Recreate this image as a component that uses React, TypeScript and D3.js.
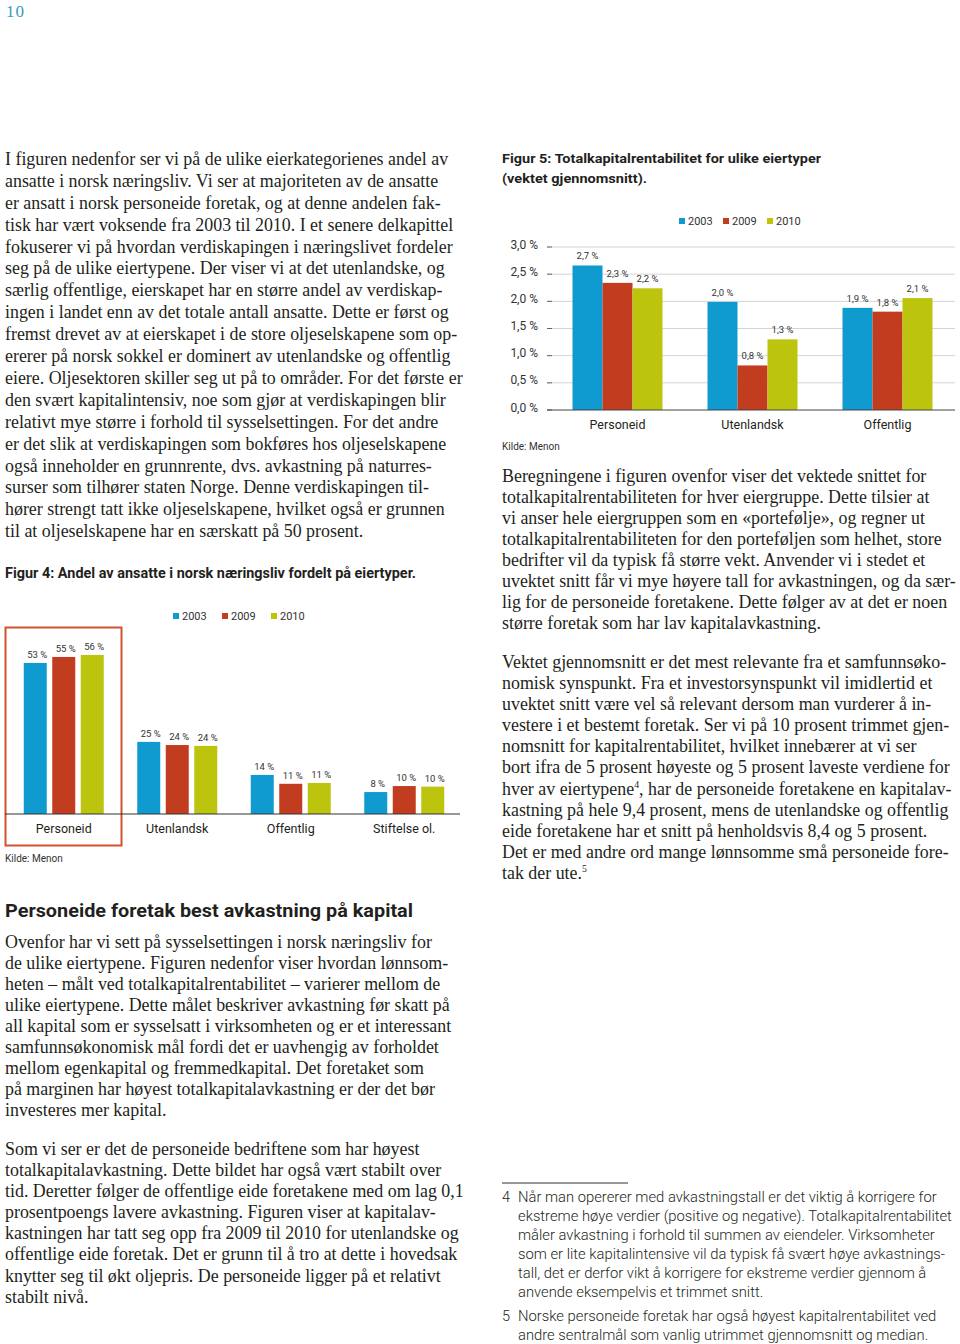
import React from 'react';
import * as d3 from 'd3';

// ---------- data ----------
const years = ['2003', '2009', '2010'];
const yearColors = ['#0f9bcf', '#c23d1f', '#bdc40d'];

const fig4Categories = ['Personeid', 'Utenlandsk', 'Offentlig', 'Stiftelse ol.'];
const fig4Y2003 = [53.0, 25.3, 13.7, 7.7];
const fig4Y2009 = [55.1, 24.2, 10.6, 9.8];
const fig4Y2010 = [55.8, 23.9, 10.9, 9.6];

const fig5Categories = ['Personeid', 'Utenlandsk', 'Offentlig'];
const fig5Y2003 = [2.66, 1.99, 1.88];
const fig5Y2009 = [2.34, 0.82, 1.81];
const fig5Y2010 = [2.24, 1.3, 2.06];
const fig5Ticks = [0, 0.5, 1.0, 1.5, 2.0, 2.5, 3.0];

// ---------- text ----------
const leftPara1 = [
  'I figuren nedenfor ser vi på de ulike eierkategorienes andel av',
  'ansatte i norsk næringsliv. Vi ser at majoriteten av de ansatte',
  'er ansatt i norsk personeide foretak, og at denne andelen fak-',
  'tisk har vært voksende fra 2003 til 2010. I et senere delkapittel',
  'fokuserer vi på hvordan verdiskapingen i næringslivet fordeler',
  'seg på de ulike eiertypene. Der viser vi at det utenlandske, og',
  'særlig offentlige, eierskapet har en større andel av verdiskap-',
  'ingen i landet enn av det totale antall ansatte. Dette er først og',
  'fremst drevet av at eierskapet i de store oljeselskapene som op-',
  'ererer på norsk sokkel er dominert av utenlandske og offentlig',
  'eiere. Oljesektoren skiller seg ut på to områder. For det første er',
  'den svært kapitalintensiv, noe som gjør at verdiskapingen blir',
  'relativt mye større i forhold til sysselsettingen. For det andre',
  'er det slik at verdiskapingen som bokføres hos oljeselskapene',
  'også inneholder en grunnrente, dvs. avkastning på naturres-',
  'surser som tilhører staten Norge. Denne verdiskapingen til-',
  'hører strengt tatt ikke oljeselskapene, hvilket også er grunnen',
  'til at oljeselskapene har en særskatt på 50 prosent.',
];
const rightPara1 = [
  'Beregningene i figuren ovenfor viser det vektede snittet for',
  'totalkapitalrentabiliteten for hver eiergruppe. Dette tilsier at',
  'vi anser hele eiergruppen som en «portefølje», og regner ut',
  'totalkapitalrentabiliteten for den porteføljen som helhet, store',
  'bedrifter vil da typisk få større vekt. Anvender vi i stedet et',
  'uvektet snitt får vi mye høyere tall for avkastningen, og da sær-',
  'lig for de personeide foretakene. Dette følger av at det er noen',
  'større foretak som har lav kapitalavkastning.',
];
const rightPara2 = [
  'Vektet gjennomsnitt er det mest relevante fra et samfunnsøko-',
  'nomisk synspunkt. Fra et investorsynspunkt vil imidlertid et',
  'uvektet snitt være vel så relevant dersom man vurderer å in-',
  'vestere i et bestemt foretak. Ser vi på 10 prosent trimmet gjen-',
  'nomsnitt for kapitalrentabilitet, hvilket innebærer at vi ser',
  'bort ifra de 5 prosent høyeste og 5 prosent laveste verdiene for',
  'hver av eiertypene^4, har de personeide foretakene en kapitalav-',
  'kastning på hele 9,4 prosent, mens de utenlandske og offentlig',
  'eide foretakene har et snitt på henholdsvis 8,4 og 5 prosent.',
  'Det er med andre ord mange lønnsomme små personeide fore-',
  'tak der ute.^5',
];
const bottomPara1 = [
  'Ovenfor har vi sett på sysselsettingen i norsk næringsliv for',
  'de ulike eiertypene. Figuren nedenfor viser hvordan lønnsom-',
  'heten – målt ved totalkapitalrentabilitet – varierer mellom de',
  'ulike eiertypene. Dette målet beskriver avkastning før skatt på',
  'all kapital som er sysselsatt i virksomheten og er et interessant',
  'samfunnsøkonomisk mål fordi det er uavhengig av forholdet',
  'mellom egenkapital og fremmedkapital. Det foretaket som',
  'på marginen har høyest totalkapitalavkastning er der det bør',
  'investeres mer kapital.',
];
const bottomPara2 = [
  'Som vi ser er det de personeide bedriftene som har høyest',
  'totalkapitalavkastning. Dette bildet har også vært stabilt over',
  'tid. Deretter følger de offentlige eide foretakene med om lag 0,1',
  'prosentpoengs lavere avkastning. Figuren viser at kapitalav-',
  'kastningen har tatt seg opp fra 2009 til 2010 for utenlandske og',
  'offentlige eide foretak. Det er grunn til å tro at dette i hovedsak',
  'knytter seg til økt oljepris. De personeide ligger på et relativt',
  'stabilt nivå.',
];
const footnote4 = [
  'Når man opererer med avkastningstall er det viktig å korrigere for',
  'ekstreme høye verdier (positive og negative). Totalkapitalrentabilitet',
  'måler avkastning i forhold til summen av eiendeler. Virksomheter',
  'som er lite kapitalintensive vil da typisk få svært høye avkastnings-',
  'tall, det er derfor vikt å korrigere for ekstreme verdier gjennom å',
  'anvende eksempelvis et trimmet snitt.',
];
const footnote5 = [
  'Norske personeide foretak har også høyest kapitalrentabilitet ved',
  'andre sentralmål som vanlig utrimmet gjennomsnitt og median.',
];

const SERIF = '"Liberation Serif", "DejaVu Serif", serif';
const SANS = 'Roboto, "Noto Sans", sans-serif';
const TEXT = '#231f20';
const BODY_SIZE = 18;
const BODY_SX = 0.995;
const NOTE_SIZE = 14.5;
const NOTE_SX = 1.02;

function renderLine(l: string, size: number) {
  const parts = l.split(/\^(\d)/);
  if (parts.length === 1) return l;
  const out: any[] = [];
  parts.forEach((p, i) => {
    if (i % 2 === 1) {
      out.push(
        <tspan key={i} fontSize={size * 0.55} dy={-size * 0.38}>
          {p}
        </tspan>
      );
    } else if (p.length) {
      out.push(
        <tspan key={i} dy={i > 0 ? size * 0.38 : 0}>
          {p}
        </tspan>
      );
    }
  });
  return out;
}

function TextBlock(props: {
  lines: string[];
  x: number;
  y: number;
  dy: number;
  size: number;
  family?: string;
  weight?: number | string;
  fill?: string;
  sx?: number;
}) {
  const { lines, x, y, dy, size, family = SERIF, weight = 400, fill = TEXT, sx = 1 } = props;
  return (
    <g transform={`translate(${x},0) scale(${sx},1)`}>
      {lines.map((l, i) => (
        <text key={i} x={0} y={y + i * dy} fontSize={size} fontFamily={family} fontWeight={weight} fill={fill}>
          {renderLine(l, size)}
        </text>
      ))}
    </g>
  );
}

const fmt0 = d3.format('.0f');
const fmt1 = (v: number) => d3.format('.1f')(v).replace('.', ',');

function Legend({ x0, y, gap }: { x0: number; y: number; gap: number }) {
  return (
    <g>
      {years.map((yr, i) => (
        <g key={yr} transform={`translate(${x0 + i * gap},${y})`}>
          <rect x={0} y={-6} width={6} height={6} fill={yearColors[i]} />
          <text x={9} y={0.5} fontSize={11} fontFamily={SANS} fill="#333">
            {yr}
          </text>
        </g>
      ))}
    </g>
  );
}

function Fig4() {
  const series = [fig4Y2003, fig4Y2009, fig4Y2010];
  const x = d3.scaleBand<string>().domain(fig4Categories).range([7, 461]).padding(0);
  const inner = d3.scaleBand<string>().domain(years).range([-40, 40]).paddingInner(0.193).paddingOuter(0);
  const y = d3.scaleLinear().domain([0, 60]).range([814, 643]);
  return (
    <g>
      <text x={5} y={578} fontSize={14} fontFamily={SANS} fontWeight={700} fill={TEXT} textLength={411} lengthAdjust="spacingAndGlyphs">
        Figur 4: Andel av ansatte i norsk næringsliv fordelt på eiertyper.
      </text>
      <Legend x0={173} y={619} gap={49} />
      <rect x={5.5} y={627.5} width={116} height={218} fill="none" stroke="#d4502f" strokeWidth={2} />
      {fig4Categories.map((c, ci) => {
        const cx = (x(c) as number) + x.bandwidth() / 2;
        return (
          <g key={c}>
            {years.map((yr, si) => {
              const v = series[si][ci];
              const bx = cx + (inner(yr) as number);
              return (
                <g key={yr}>
                  <rect x={bx} y={y(v)} width={inner.bandwidth()} height={y(0) - y(v)} fill={yearColors[si]} />
                  <text x={bx + inner.bandwidth() / 2 + 2} y={y(v) - 5} fontSize={9.5} fontFamily={SANS} fill="#333" textAnchor="middle">
                    {fmt0(v)} %
                  </text>
                </g>
              );
            })}
            <text x={cx} y={833} fontSize={12.5} fontFamily={SANS} fill={TEXT} textAnchor="middle">
              {c}
            </text>
          </g>
        );
      })}
      <line x1={5} x2={460} y1={y(0)} y2={y(0)} stroke="#333" strokeWidth={1.2} />
      <text x={5} y={862} fontSize={10} fontFamily={SANS} fill="#333">
        Kilde: Menon
      </text>
    </g>
  );
}

function Fig5() {
  const series = [fig5Y2003, fig5Y2009, fig5Y2010];
  const x = d3.scaleBand<string>().domain(fig5Categories).range([550, 955]).padding(0);
  const inner = d3.scaleBand<string>().domain(years).range([-45, 45]).padding(0);
  const y = d3.scaleLinear().domain([0, 3]).range([410, 247]);
  return (
    <g>
      <text x={502} y={163} fontSize={13.5} fontFamily={SANS} fontWeight={700} fill={TEXT} textLength={319} lengthAdjust="spacingAndGlyphs">
        Figur 5: Totalkapitalrentabilitet for ulike eiertyper
      </text>
      <text x={502} y={183} fontSize={13.5} fontFamily={SANS} fontWeight={700} fill={TEXT} textLength={145} lengthAdjust="spacingAndGlyphs">
        (vektet gjennomsnitt).
      </text>
      <Legend x0={679} y={224} gap={44} />
      {fig5Ticks.map((t) => (
        <g key={t}>
          {t > 0 && <line x1={547} x2={955} y1={y(t)} y2={y(t)} stroke="#d4d4d4" strokeWidth={1} />}
          <line x1={547} x2={552} y1={y(t)} y2={y(t)} stroke="#666" strokeWidth={1} />
          <text x={538} y={y(t) + 1.5} fontSize={12} fontFamily={SANS} fill="#333" textAnchor="end">
            {fmt1(t)} %
          </text>
        </g>
      ))}
      {fig5Categories.map((c, ci) => {
        const cx = (x(c) as number) + x.bandwidth() / 2;
        return (
          <g key={c}>
            {years.map((yr, si) => {
              const v = series[si][ci];
              const bx = cx + (inner(yr) as number);
              return (
                <g key={yr}>
                  <rect x={bx} y={y(v)} width={inner.bandwidth()} height={y(0) - y(v)} fill={yearColors[si]} />
                  <text x={bx + inner.bandwidth() / 2} y={y(v) - 6} fontSize={9.5} fontFamily={SANS} fill="#333" textAnchor="middle">
                    {fmt1(v)} %
                  </text>
                </g>
              );
            })}
            <text x={cx} y={429} fontSize={12.5} fontFamily={SANS} fill={TEXT} textAnchor="middle">
              {c}
            </text>
          </g>
        );
      })}
      <line x1={547} x2={955} y1={y(0)} y2={y(0)} stroke="#444" strokeWidth={1.2} />
      <text x={502} y={450} fontSize={10} fontFamily={SANS} fill="#333">
        Kilde: Menon
      </text>
    </g>
  );
}

export default function App() {
  return (
    <svg
      width={960}
      height={1344}
      viewBox="0 0 960 1344"
      style={{ position: 'absolute', left: 0, top: 0, background: '#fff' }}
    >
      <rect x={0} y={0} width={960} height={1344} fill="#fff" />
      <text x={6} y={17} fontSize={17} fontFamily={SERIF} fill="#3a9ac0" letterSpacing={1}>
        10
      </text>

      <TextBlock lines={leftPara1} x={5} y={165} dy={21.9} size={BODY_SIZE} sx={BODY_SX} />
      <Fig4 />

      <text x={5} y={917} fontSize={19} fontFamily={SANS} fontWeight={700} fill={TEXT} textLength={408} lengthAdjust="spacingAndGlyphs">
        Personeide foretak best avkastning på kapital
      </text>
      <TextBlock lines={bottomPara1} x={5} y={948} dy={21} size={BODY_SIZE} sx={BODY_SX} />
      <TextBlock lines={bottomPara2} x={5} y={1155} dy={21.1} size={BODY_SIZE} sx={BODY_SX} />

      <Fig5 />
      <TextBlock lines={rightPara1} x={502} y={482} dy={21} size={BODY_SIZE} sx={BODY_SX} />
      <TextBlock lines={rightPara2} x={502} y={668} dy={21.1} size={BODY_SIZE} sx={BODY_SX} />

      <line x1={502} x2={628} y1={1183} y2={1183} stroke="#333" strokeWidth={1} />
      <text x={502} y={1202} fontSize={NOTE_SIZE} fontFamily={SANS} fontWeight={300} fill={TEXT}>4</text>
      <TextBlock lines={footnote4} x={518} y={1202} dy={19} size={NOTE_SIZE} family={SANS} weight={300} sx={NOTE_SX} />
      <text x={502} y={1321} fontSize={NOTE_SIZE} fontFamily={SANS} fontWeight={300} fill={TEXT}>5</text>
      <TextBlock lines={footnote5} x={518} y={1321} dy={19} size={NOTE_SIZE} family={SANS} weight={300} sx={NOTE_SX} />
    </svg>
  );
}
